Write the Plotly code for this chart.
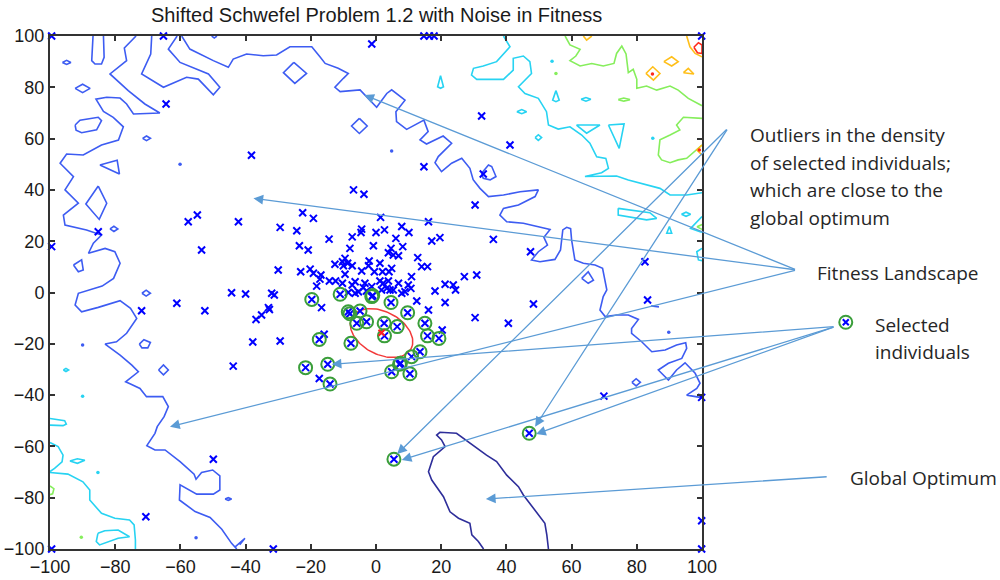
import numpy as np
import plotly.graph_objects as go

TITLE = "Shifted Schwefel Problem 1.2 with Noise in Fitness"
TICKS = [-100, -80, -60, -40, -20, 0, 20, 40, 60, 80, 100]
AX_MIN, AX_MAX = -100, 100

# ---------------- contour lines (data units) ----------------
NAVY_LINE = [(33.0, -100), (31.4, -97.1), (29.4, -94.5), (28.8, -90.0), (25.3, -88.0), (22.7, -85.5),
             (20.7, -79.6), (17.1, -73.1), (16.1, -69.9), (17.6, -64.0), (21.2, -60.1), (20.1, -57.5),
             (18.6, -55.6), (19.6, -54.5), (24.7, -54.9), (28.8, -58.8), (33.9, -63.4), (37.0, -65.9),
             (40.1, -71.2), (43.7, -75.7), (45.2, -78.95), (48.3, -84.1), (51.8, -90.0), (52.4, -94.5),
             (52.9, -100)]

BLUE_LEFT = [(-73.6, 100), (-77.2, 95.3), (-76.5, 90.4), (-81.6, 85.2), (-76.0, 78.7), (-70.9, 73.5),
             (-66.3, 70.0), (-74.4, 69.6), (-76.5, 73.5), (-78.5, 75.8), (-82.6, 76.1), (-85.9, 75.4),
             (-83.6, 70.6), (-80.6, 68.3), (-77.5, 64.6), (-79.0, 59.4), (-84.2, 57.5), (-89.8, 53.6),
             (-94.9, 54.0), (-96.9, 50.4), (-92.8, 45.2), (-95.4, 40.0), (-91.3, 34.8), (-95.9, 30.2),
             (-95.4, 26.3), (-88.8, 24.4), (-84.2, 22.4), (-86.7, 19.2), (-88.2, 15.3), (-83.1, 17.2),
             (-80.1, 15.9), (-78.5, 11.4), (-80.5, 5.5), (-84.0, 2.5), (-91.3, -0.3), (-92.3, -4.9),
             (-90.3, -7.5), (-85.2, -5.8), (-78.5, -3.2), (-75.3, -6.2), (-73.4, -10.1), (-76.5, -15.9),
             (-79.6, -19.2), (-83.1, -20.1), (-78.5, -24.4), (-74.9, -28.3), (-72.9, -30.9), (-76.8, -34.8),
             (-75.3, -35.7), (-72.4, -37.4), (-70.4, -40.6), (-65.4, -40.6), (-63.7, -44.5), (-65.0, -48.4),
             (-67.1, -52.3), (-67.8, -54.9), (-70.3, -59.7), (-67.8, -61.4), (-64.7, -61.4), (-60.1, -65.9),
             (-55.8, -70.8), (-55.2, -72.8), (-53.5, -70.2), (-50.1, -69.2), (-47.9, -71.5), (-47.9, -77.0),
             (-49.9, -78.6), (-55.0, -78.6), (-60.1, -75.0), (-60.3, -80.9), (-55.5, -85.4), (-50.9, -87.7),
             (-47.3, -92.3), (-44.3, -97.8), (-42.7, -100)]

BLUE_RIGHT = [(-59.6, 100), (-57.1, 94.9), (-49.9, 90.4), (-45.3, 87.8), (-43.8, 91.0), (-39.7, 93.0),
              (-34.6, 92.3), (-30.5, 92.6), (-26.4, 95.8), (-19.7, 95.8), (-17.2, 91.9), (-15.6, 89.3),
              (-11.6, 87.4), (-8.5, 85.4), (-10.0, 83.5), (-12.6, 80.0), (-11.0, 78.3), (-4.9, 79.0),
              (0.2, 72.2), (3.3, 77.6), (4.8, 79.0), (8.9, 75.0), (6.1, 70.5), (6.3, 66.6), (9.4, 63.6),
              (12.5, 65.7), (14.7, 67.2), (16.0, 62.7), (13.5, 59.5), (15.5, 57.9), (20.6, 61.0),
              (23.2, 58.2), (19.1, 53.0), (18.1, 50.6), (20.1, 47.1), (23.2, 50.4), (26.3, 52.3),
              (28.8, 48.4), (29.8, 44.0), (31.9, 40.6), (34.5, 37.4), (39.1, 38.0), (44.2, 39.3),
              (49.8, 40.0), (48.8, 37.4), (43.7, 34.1), (39.1, 32.8), (38.0, 30.2), (40.1, 27.6),
              (45.2, 27.0), (49.3, 25.7), (53.4, 24.6), (51.5, 21.5), (52.6, 18.5), (49.8, 15.9),
              (47.7, 12.7), (50.3, 12.0), (54.9, 12.9), (56.6, 16.6), (57.3, 24.4), (58.5, 25.4),
              (59.7, 24.9), (60.0, 20.5), (61.0, 12.7), (63.6, 11.4), (67.2, 10.7), (69.5, 9.4),
              (70.2, 5.5), (70.8, 1.0), (69.7, -1.6), (68.7, -6.8), (70.3, -9.4), (73.8, -8.8),
              (77.4, -8.8), (80.5, -10.5), (78.4, -14.0), (78.4, -15.9), (81.5, -19.2), (84.6, -23.1),
              (88.7, -22.4), (92.2, -20.5), (95.0, -19.6), (95.3, -21.8), (93.8, -25.7), (89.7, -27.6),
              (86.6, -30.2), (89.7, -34.1), (92.2, -30.2), (94.8, -27.4), (97.9, -31.5), (99.4, -35.4),
              (98.4, -37.4), (95.3, -40.0), (99.4, -40.9), (100, -41.0)]

BLUE_FINGER_A = [(-86.8, 100), (-87.2, 90.4), (-86.2, 89.1), (-84.2, 89.1), (-83.4, 91.7), (-83.6, 100)]
BLUE_FINGER_C = [(-68.8, 100), (-69.1, 93.0), (-71.9, 85.2), (-65.2, 80.0), (-58.1, 83.9), (-54.5, 83.2),
                 (-49.9, 77.1), (-47.9, 80.0), (-51.4, 85.2), (-60.1, 89.7), (-63.7, 94.9), (-61.0, 100)]
BLUE_SMALL_OPEN = [[(-43.2, -99.2), (-40.2, -95.8), (-41.8, -98.3)],
                   [(-50.4, 100), (-49.6, 99.2), (-48.8, 100)],
                   [(84.4, -5.2), (86.8, -5.6)]]
BLUE_LOOPS = [
    [(-96.2, 89.7), (-94.9, 90.5), (-93.6, 89.7), (-94.9, 88.9)],
    [(-92.3, 79.6), (-90.0, 81.2), (-87.7, 79.6), (-90.0, 77.9)],
    [(-92.3, 65.3), (-90.8, 67.2), (-85.2, 68.3), (-84.2, 67.0), (-85.7, 63.4), (-90.3, 62.3), (-92.0, 63.3)],
    [(-71.6, 60.1), (-70.4, 61.0), (-69.2, 60.1), (-70.4, 59.2)],
    [(-84.7, 49.7), (-79.4, 51.6), (-78.7, 46.2)],
    [(-85.2, 41.5), (-82.6, 34.8), (-84.9, 28.5), (-89.0, 34.5)],
    [(-81.6, 24.8), (-80.4, 25.8), (-79.2, 24.8), (-80.4, 23.8)],
    [(-92.8, 10.7), (-90.3, 12.7), (-89.8, 8.8), (-91.3, 8.1)],
    [(-71.8, -0.3), (-70.5, 0.9), (-69.2, -0.3), (-70.5, -1.4)],
    [(-72.6, -20.1), (-71.2, -18.4), (-69.2, -19.5), (-70.0, -21.6), (-71.8, -21.6)],
    [(-66.7, -30.2), (-65.2, -28.2), (-63.7, -30.2), (-65.2, -32.1)],
    [(-46.3, -80.5), (-45.3, -80.0), (-44.3, -80.5), (-45.3, -81.0)],
    [(-25.2, 89.7), (-21.3, 85.4), (-24.9, 81.5), (-28.4, 85.7)],
    [(-5.1, 67.9), (-2.7, 64.9), (-5.1, 62.0), (-7.5, 64.9)],
    [(32.4, 46.5), (34.5, 49.7), (35.5, 49.1), (36.8, 45.2), (35.0, 43.9), (32.9, 44.5)],
    [(63.1, 5.5), (65.1, 8.1), (66.7, 4.8), (65.1, 3.6)],
    [(78.5, -35.0), (79.8, -33.6), (81.1, -35.0), (79.8, -36.4)],
]
BLUE_DOTS = [(-90.0, -20.5), (-55.2, -95.6), (-60.1, 50.0), (4.8, 55.2), (89.8, -15.5)]

CYAN_OPEN = [
    [(39.1, 100), (41.1, 95.8), (37.0, 90.0), (32.9, 88.3), (29.9, 87.4), (29.3, 84.8), (30.9, 83.1),
     (39.1, 83.1), (42.1, 86.7), (42.1, 91.3), (45.2, 92.2), (47.2, 90.0), (47.7, 85.4), (43.7, 80.2),
     (45.7, 77.6), (49.8, 75.7), (52.3, 70.5), (52.9, 65.3), (55.9, 63.7), (59.5, 64.6), (63.1, 61.4),
     (65.6, 58.2), (67.7, 52.9), (70.5, 52.3), (71.3, 48.4), (69.2, 46.7), (64.1, 45.2), (68.2, 45.2),
     (73.8, 45.4), (77.4, 43.9), (82.5, 42.3), (87.1, 40.6), (90.2, 38.0), (95.3, 38.0), (100, 38.9)],
    [(-100, -70.2), (-94.5, -70.8), (-89.9, -73.8), (-87.8, -77.0), (-87.8, -80.9), (-84.2, -86.1),
     (-80.1, -88.0), (-75.6, -88.7), (-74.2, -90.6), (-73.8, -96.5), (-73.8, -100)],
    [(-100, -58.5), (-97.5, -60.1), (-96.0, -63.4), (-96.3, -66.0), (-98.6, -68.6), (-100, -69.8)],
    [(-100, -49.1), (-95.5, -50.0), (-95.0, -51.3), (-96.0, -51.9), (-100, -51.7)],
    [(100, 29.6), (98.4, 27.6), (96.5, 25.0), (99.4, 23.7), (100, 23.5)],
    [(100, 17.2), (98.4, 15.9), (98.9, 12.7), (100, 12.4)],
]
CYAN_LOOPS = [
    [(-93.9, -65.7), (-91.6, -64.8), (-89.3, -65.4), (-91.6, -66.6)],
    [(-85.3, -93.9), (-83.2, -92.9), (-79.1, -92.6), (-75.6, -95.2), (-79.1, -95.8), (-81.7, -97.1),
     (-84.8, -98.4), (-85.8, -97.1)],
    [(-95.9, -30.2), (-95.1, -29.6), (-94.3, -30.2), (-95.1, -30.8)],
    [(55.2, 78.7), (56.2, 75.0), (55.2, 74.4), (54.2, 75.0)],
    [(43.2, 70.5), (44.7, 71.3), (46.2, 70.5), (44.7, 69.7)],
    [(48.8, 60.4), (49.8, 61.5), (50.8, 60.4), (49.8, 59.3)],
    [(62.9, 75.3), (64.4, 76.0), (65.9, 75.3), (64.4, 74.6)],
    [(61.5, 65.3), (68.7, 65.3), (64.6, 62.1)],
    [(71.3, 65.3), (76.1, 65.7), (74.6, 56.2)],
    [(74.3, 32.8), (84.0, 31.1), (86.1, 28.9), (83.0, 28.3), (74.3, 30.2)],
    [(93.7, 30.5), (95.1, 31.3), (96.5, 30.5), (95.1, 29.7)],
    [(90.0, 25.7), (90.7, 23.1), (89.2, 23.1)],
    [(19.8, 84.5), (20.7, 80.2), (19.8, 79.6), (18.9, 80.2)],
]
CYAN_DOTS = [(-90.0, -40.4), (-85.3, -70.2), (54.0, 90.2), (84.9, 60.1)]

GREEN_OPEN = [
    [(58.0, 100), (59.5, 96.5), (62.6, 94.8), (61.3, 92.2), (59.5, 90.4), (62.6, 88.3), (66.2, 89.3),
     (69.7, 88.3), (73.0, 89.3), (73.8, 93.2), (75.4, 96.1), (76.7, 93.0), (77.4, 85.7), (78.9, 87.0),
     (80.0, 83.1), (80.0, 79.6), (83.0, 80.5), (86.1, 78.9), (90.2, 80.5), (92.7, 78.9), (95.8, 75.7),
     (99.4, 73.1), (100, 72.8)],
    [(100, 67.9), (94.3, 68.3), (92.2, 65.3), (93.2, 63.4), (90.2, 61.4), (87.1, 59.5), (86.6, 53.6),
     (87.6, 51.7), (90.2, 50.6), (92.7, 51.7), (95.3, 52.3), (98.4, 55.6), (100, 57.5)],
    [(-100, -75.4), (-98.8, -76.5), (-99.2, -78.5), (-100, -78.8)],
    [(100, 26.5), (98.5, 25.6), (100, 24.6)],
]
GREEN_LOOPS = [[(74.3, 75.2), (76.0, 75.8), (77.9, 75.2), (76.0, 74.6)]]
GREEN_DOTS = [(55.2, 85.4), (-90.4, -95.4)]

YELLOW_OPEN = [[(63.6, 100), (64.6, 98.4), (66.2, 100)],
               [(95.3, 100), (96.3, 95.8), (97.9, 93.2), (100, 91.9)],
               [(100, 57.5), (98.4, 55.6), (100, 53.6)]]
YELLOW_LOOPS = [[(82.8, 85.4), (84.9, 88.0), (87.1, 85.4), (85.1, 82.8)],
                [(88.3, 90.0), (90.7, 91.9), (92.7, 90.0), (90.7, 88.3)],
                [(94.3, 85.7), (95.8, 87.4), (97.5, 85.2)]]
RED_LOOPS = [[(97.5, 95.6), (98.9, 97.4), (100, 96.5), (100, 93.2), (98.6, 93.5)]]
RED_DOTS = [(84.8, 85.2), (99.2, 55.6)]

# ---------------- population ----------------
POP_X = [-6.9, -3.7, 30.4, -22.5, -19.2, 1.4, 16.1, -29.4, -24.3, -4.4, -4.6, 7.9, 10.1, 0.0, 2.6, -7.3,
         -14.4, 6.1, 17.1, 19.6, -23.5, -20.8, -8.0, -0.8, 8.2, 4.6, 3.8, 5.3, 6.9, -9.5, -10.3, -8.7,
         -2.1, 1.2, 12.8, -12.6, -10.0, -7.3, -2.3, 4.8, 14.0, 15.8, -30.0, -23.1, -20.2, -19.2, -16.9,
         -9.5, -4.4, -0.5, 2.0, 4.0, 10.9, -17.2, -14.3, -12.4, -6.4, -10.3, -3.4, 1.2, 3.8, 2.2, 6.9,
         27.1, 30.9, -18.2, -7.3, -3.9, -1.3, 3.3, 5.3, 9.9, 10.7, 18.1, 21.2, 23.7, 24.4, -32.0, -31.2,
         -8.5, -6.4, -5.4, -2.9, 1.7, 4.3, 7.9, 8.9, 12.5, 21.2, -33.0, -16.7, 16.1, 30.4, -15.9, 20.3,
         -29.4, -17.4,
         -99.5, -65.2, -64.4, -38.2, -57.6, -54.8, -42.2, -85.2, -99.5, -53.5,
         -44.3, -40.0, -61.1, -71.9, -52.5, -36.8, -35.1, -32.7, -37.8, -43.8, -49.9, -70.6, -99.5, -31.5,
         -1.3, 14.7, 16.4, 17.8, 14.7,
         32.4, 41.1, 32.9, 36.0, 47.4, 82.5, 99.9,
         40.6, 48.3, 83.3, 69.9, 99.9, 99.9, 99.9]
POP_Y = [40.0, 38.3, 34.1, 31.1, 28.9, 29.3, 27.6, 25.4, 24.1, 24.7, 23.4, 25.7, 23.4, 23.4, 24.4, 21.7,
         20.8, 21.1, 20.1, 21.4, 18.2, 16.6, 17.2, 18.2, 17.9, 17.2, 15.5, 14.6, 14.3, 13.3, 12.0, 11.4,
         12.3, 11.4, 13.6, 11.0, 10.4, 10.4, 10.4, 9.4, 10.1, 10.1, 8.8, 8.1, 9.1, 7.5, 6.8,
         7.1, 8.4, 8.1, 8.1, 8.1, 6.2, 5.2, 4.5, 4.5, 4.2, 3.6, 3.6, 4.5, 4.5, 3.6, 3.6,
         6.2, 6.8, 2.5, 2.9, 1.9, 2.3, 1.6, 1.0, 2.9, 1.6, 0.6, 3.2, 2.9, 1.0, -0.3, -1.0,
         0.0, -0.3, 0.3, 0.6, 1.0, 1.0, -0.3, 0.3, -3.3, -3.9, -5.9, -5.9, -6.8, -9.8, -16.3, -14.6,
         -18.9, -33.5,
         100, 100, 73.5, 53.5, 27.6, 30.2, 27.6, 23.7, 17.9, 16.6,
         -0.1, -0.6, -4.2, -7.1, -7.1, -10.5, -8.8, -6.6, -19.3, -28.7, -65.0, -87.4, -100, -100,
         96.9, 100, 100, 100, 49.0,
         68.8, 57.5, 46.2, 20.7, 15.9, 12.0, 100,
         -12.0, -4.5, -2.9, -40.4, -40.9, -89.0, -100]

SEL_X = [-19.7, -11.0, -1.3, -1.0, 4.6, -8.5, -8.0, -4.9, 9.7, -5.9, -2.9, 2.5, 6.5, 15.0, -17.4, 2.6,
         15.8, 19.3, -7.7, 13.5, 10.9, 7.2, 7.5, 4.8, 10.4, -21.6, -14.8, -14.1, 47.0, 5.5]
SEL_Y = [-2.7, -0.7, -1.6, -1.2, -3.9, -7.5, -8.3, -7.2, -7.9, -12.0, -11.4, -12.0, -13.3, -12.0, -18.3,
         -16.9, -16.9, -17.9, -19.8, -23.1, -25.0, -28.0, -27.6, -30.9, -31.7, -29.3, -28.0, -35.7,
         -54.9, -65.0]

MEAN_POINT = (1.7, -15.7)
ELLIPSE_CENTER = (1.7, -15.8)
ELLIPSE_AXIS_A = (9.1, -6.0)
ELLIPSE_AXIS_B = (-3.0, -7.4)

# ---------------- annotations (positions in axis units, right of the axes) ----------------
ARROW_TAILS = [(108.0, 64.1), (108.0, 64.1), (129.0, 8.8), (129.0, 8.8), (129.0, 8.8),
               (140.8, -13.3), (140.8, -13.3), (140.8, -13.3), (138.7, -71.8)]
ARROW_TIPS = [(6.5, -63.0), (48.8, -52.3), (-3.6, 77.0), (-37.6, 36.7), (-63.2, -52.3),
              (-13.6, -28.0), (7.9, -65.3), (49.1, -55.2), (33.7, -80.5)]
LABELS = [("Outliers in the density", 114.1, 61.4), ("of selected individuals;", 114.1, 50.6),
          ("which are close to the", 114.1, 39.8), ("global optimum", 114.1, 29.0),
          ("Fitness Landscape", 134.7, 7.7), ("Selected", 152.4, -12.7),
          ("individuals", 152.4, -23.1), ("Global Optimum", 144.8, -72.3)]
LEGEND_ICON = (144.1, -11.6)

COL_NAVY = "#2e2e9a"
COL_BLUE = "#3d5cf2"
COL_CYAN = "#27d3f2"
COL_GREEN = "#86ee5c"
COL_YELLOW = "#ffbf1a"
COL_RED = "#ff2a1a"
COL_ARROW = "#5b9bd5"
COL_SEL = "#3a9e3a"

PLOT_W, PLOT_H = 652, 513


def to_paper(v):
    return (v - AX_MIN) / (AX_MAX - AX_MIN)


def to_xy(polys, closed=False):
    xs, ys = [], []
    for p in polys:
        pts = list(p) + ([p[0]] if closed else [])
        xs += [q[0] for q in pts] + [None]
        ys += [q[1] for q in pts] + [None]
    return xs, ys


fig = go.Figure()


def add_lines(polys, color, closed=False):
    xs, ys = to_xy(polys, closed)
    fig.add_trace(go.Scatter(x=xs, y=ys, mode="lines", line=dict(color=color, width=1.6),
                             hoverinfo="skip", connectgaps=False))


def add_dots(pts, color):
    fig.add_trace(go.Scatter(x=[p[0] for p in pts], y=[p[1] for p in pts], mode="markers",
                             marker=dict(color=color, size=3.5), hoverinfo="skip"))


add_lines([NAVY_LINE], COL_NAVY)
add_lines([BLUE_LEFT, BLUE_RIGHT, BLUE_FINGER_A, BLUE_FINGER_C] + BLUE_SMALL_OPEN, COL_BLUE)
add_lines(BLUE_LOOPS, COL_BLUE, closed=True)
add_dots(BLUE_DOTS, COL_BLUE)
add_lines(CYAN_OPEN, COL_CYAN)
add_lines(CYAN_LOOPS, COL_CYAN, closed=True)
add_dots(CYAN_DOTS, COL_CYAN)
add_lines(GREEN_OPEN, COL_GREEN)
add_lines(GREEN_LOOPS, COL_GREEN, closed=True)
add_dots(GREEN_DOTS, COL_GREEN)
add_lines(YELLOW_OPEN, COL_YELLOW)
add_lines(YELLOW_LOOPS, COL_YELLOW, closed=True)
add_lines(RED_LOOPS, COL_RED, closed=True)
add_dots(RED_DOTS, COL_RED)

# search distribution ellipse
t = np.linspace(0, 2 * np.pi, 120)
ex = ELLIPSE_CENTER[0] + np.cos(t) * ELLIPSE_AXIS_A[0] + np.sin(t) * ELLIPSE_AXIS_B[0]
ey = ELLIPSE_CENTER[1] + np.cos(t) * ELLIPSE_AXIS_A[1] + np.sin(t) * ELLIPSE_AXIS_B[1]
fig.add_trace(go.Scatter(x=ex, y=ey, mode="lines", line=dict(color="#f23a3a", width=1.5), hoverinfo="skip"))

# population
fig.add_trace(go.Scatter(x=POP_X + SEL_X, y=POP_Y + SEL_Y, mode="markers", cliponaxis=False,
                         marker=dict(symbol="x-thin", size=7, line=dict(color="#0000ff", width=2)),
                         hoverinfo="skip"))
fig.add_trace(go.Scatter(x=SEL_X, y=SEL_Y, mode="markers", cliponaxis=False,
                         marker=dict(symbol="circle-open", size=13, color=COL_SEL,
                                     line=dict(color=COL_SEL, width=2)),
                         hoverinfo="skip"))
fig.add_trace(go.Scatter(x=[MEAN_POINT[0]], y=[MEAN_POINT[1]], mode="markers",
                         marker=dict(symbol="x-thin", size=6, line=dict(color="#ff2020", width=2)),
                         hoverinfo="skip"))

annotations = []
for (tx, ty), (hx, hy) in zip(ARROW_TAILS, ARROW_TIPS):
    annotations.append(dict(x=hx, y=hy, ax=tx, ay=ty, xref="x", yref="y", axref="x", ayref="y",
                            text="", showarrow=True, arrowhead=2, arrowsize=1.5, arrowwidth=1.3,
                            arrowcolor=COL_ARROW, standoff=0, startstandoff=0))
for txt, lx, ly in LABELS:
    annotations.append(dict(x=to_paper(lx), y=to_paper(ly), xref="paper", yref="paper", text=txt,
                            showarrow=False, xanchor="left", yanchor="middle",
                            font=dict(family="Open Sans, sans-serif", size=19, color="#262626")))
annotations.append(dict(x=0.5, y=1.0, xref="paper", yref="paper", yshift=21, text=TITLE, showarrow=False,
                        xanchor="center", yanchor="middle",
                        font=dict(family="Liberation Sans, Arial, sans-serif", size=20, color="#1a1a1a")))

# legend-like icon (circle with a cross) next to "Selected individuals"
icx, icy = to_paper(LEGEND_ICON[0]), to_paper(LEGEND_ICON[1])
rx, ry = 6.5 / PLOT_W, 6.5 / PLOT_H
cx, cy = 3.0 / PLOT_W, 3.0 / PLOT_H
shapes = [
    dict(type="circle", xref="paper", yref="paper", x0=icx - rx, x1=icx + rx, y0=icy - ry, y1=icy + ry,
         line=dict(color=COL_SEL, width=2)),
    dict(type="line", xref="paper", yref="paper", x0=icx - cx, x1=icx + cx, y0=icy - cy, y1=icy + cy,
         line=dict(color="#0000ff", width=2)),
    dict(type="line", xref="paper", yref="paper", x0=icx - cx, x1=icx + cx, y0=icy + cy, y1=icy - cy,
         line=dict(color="#0000ff", width=2)),
]

axis_common = dict(range=[AX_MIN, AX_MAX], tickvals=TICKS, ticks="inside", ticklen=5, tickwidth=1.5,
                   tickcolor="#333333", showline=True, linecolor="#333333", linewidth=2,
                   mirror="ticks", showgrid=False, zeroline=False, fixedrange=True, automargin=False,
                   tickfont=dict(family="Liberation Sans, Arial, sans-serif", size=18, color="#1a1a1a"))

fig.update_layout(
    width=1000, height=580,
    margin=dict(l=50, r=298, t=36, b=31, autoexpand=False),
    paper_bgcolor="white", plot_bgcolor="white",
    showlegend=False,
    xaxis=dict(axis_common),
    yaxis=dict(axis_common),
    annotations=annotations,
    shapes=shapes,
)

fig.write_html("out.html")
